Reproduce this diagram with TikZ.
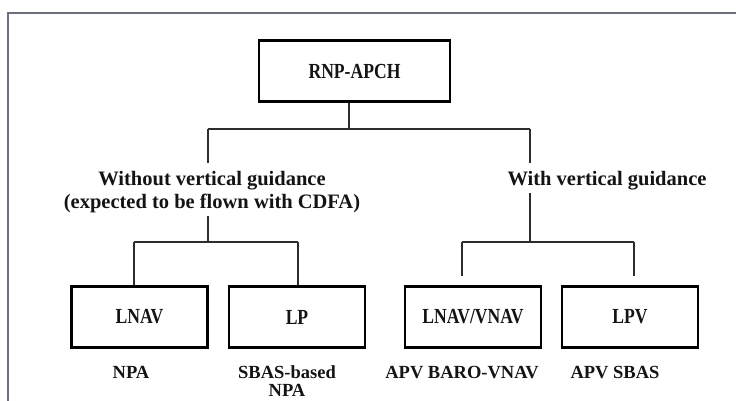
\documentclass[tikz,border=0pt]{standalone}
\usepackage{fontspec}
\usepackage{graphicx}
\setmainfont{Liberation Serif}
\definecolor{framegray}{RGB}{108,112,124}
\definecolor{linkgray}{RGB}{45,45,45}
\definecolor{inkc}{RGB}{20,20,20}
% box titles are set slightly tall and narrow
\newcommand\tallcaps[1]{\scalebox{1}[1.22]{#1}}
\begin{document}
\begin{tikzpicture}[x=1pt,y=-1pt,
  modebox/.style={draw=black, line width=2.2pt, minimum width=136pt,
    minimum height=61pt, inner sep=0pt, text=inkc,
    font=\bfseries\fontsize{17.6}{20}\selectfont},
  branchlabel/.style={inner sep=0pt, align=center, text=inkc,
    font=\bfseries\fontsize{20.5}{23}\selectfont},
  sublabel/.style={inner sep=0pt, align=center, text=inkc,
    font=\bfseries\fontsize{18.5}{18}\selectfont},
  link/.style={draw=linkgray, line width=1.1pt}]
\useasboundingbox (0,0) rectangle (736,401);

% outer frame
\draw[framegray, line width=2.4pt] (8,402) -- (8,13.3) -- (737,13.3);

% boxes
\node[modebox, minimum width=191pt] (top) at (354.5,71) {\tallcaps{RNP-APCH}};
\node[modebox] (lnav) at (139.5,317) {\tallcaps{LNAV}};
\node[modebox] (lp) at (297,317) {\tallcaps{LP}};
\node[modebox] (lnvn) at (473,317) {\tallcaps{LNAV/VNAV}};
\node[modebox] (lpv) at (630,317) {\tallcaps{LPV}};

% branch labels
\node[branchlabel, anchor=north] (wo) at (212,171)
  {Without vertical guidance\\(expected to be flown with CDFA)};
\node[branchlabel, anchor=base] (wi) at (607,185) {With vertical guidance};

% labels under the boxes
\node[sublabel, anchor=base] (npa) at (131,378) {NPA};
\node[sublabel, anchor=north] (sbas) at (287,365) {SBAS-based\\NPA};
\node[sublabel, anchor=base] (baro) at (462,378) {APV BARO-VNAV};
\node[sublabel, anchor=base] (apvs) at (615,378) {APV SBAS};

% junction points
\coordinate (jt) at (349,129);
\coordinate (jl) at (208,129);
\coordinate (jr) at (530,129);
\coordinate (kl) at (208,242);
\coordinate (kr) at (530,242);
\coordinate (kl1) at (134,242);
\coordinate (kl2) at (298,242);
\coordinate (kr1) at (462,242);
\coordinate (kr2) at (634,242);
\coordinate (er1) at (462,276);
\coordinate (er2) at (634,276);

% tree connectors
\draw[link] (top.south -| jt) -- (jt);
\draw[link] (jl) -- (jr);
\draw[link] (jl) -- ([yshift=8pt]wo.north -| jl);
\draw[link] ([yshift=-3.5pt]wo.south -| jl) -- (kl);
\draw[link] (jr) -- ([yshift=8pt]wi.north -| jr);
\draw[link] ([yshift=-3.5pt]wi.south -| jr) -- (kr);
\draw[link] (kl1) -- (kl2);
\draw[link] (kl1) -- (kl1 |- lnav.north);
\draw[link] (kl2) -- (kl2 |- lp.north);
\draw[link] (kr1) -- (kr2);
\draw[link] (kr1) -- (er1);
\draw[link] (kr2) -- (er2);
\end{tikzpicture}
\end{document}
